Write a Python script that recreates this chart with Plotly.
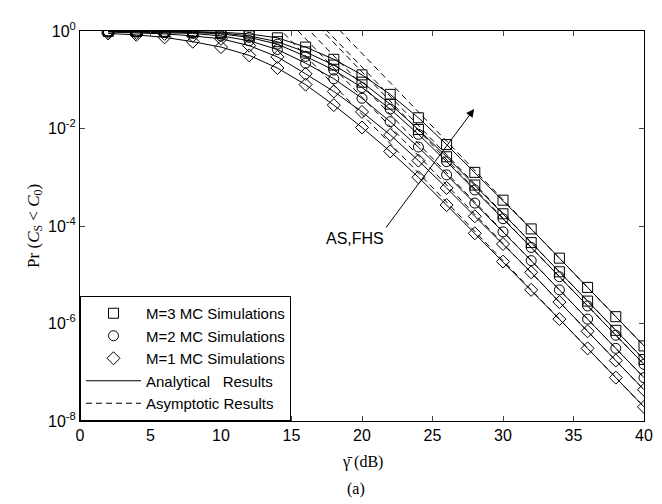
import plotly.graph_objects as go

snr_db = [2, 4, 6, 8, 10, 12, 14, 16, 18, 20, 22, 24, 26, 28, 30, 32, 34, 36, 38, 40]

# Simulated / analytical outage probability (two schemes per M)
m3_a = [0.995, 0.991, 0.984, 0.971, 0.944, 0.871, 0.724, 0.468, 0.263, 0.126, 0.0501, 0.0166,
        4.68e-3, 1.26e-3, 3.39e-4, 8.71e-5, 2.19e-5, 5.50e-6, 1.38e-6, 3.47e-7]
m3_b = [0.993, 0.986, 0.977, 0.955, 0.912, 0.794, 0.603, 0.372, 0.200, 0.0891, 0.0316, 9.55e-3,
        2.63e-3, 6.92e-4, 1.78e-4, 4.57e-5, 1.15e-5, 2.88e-6, 7.24e-7, 1.82e-7]
m2_a = [0.989, 0.977, 0.955, 0.933, 0.871, 0.741, 0.537, 0.302, 0.158, 0.0692, 0.0251, 7.59e-3,
        2.09e-3, 5.50e-4, 1.41e-4, 3.63e-5, 9.12e-6, 2.29e-6, 5.75e-7, 1.45e-7]
m2_b = [0.977, 0.955, 0.933, 0.891, 0.794, 0.631, 0.417, 0.219, 0.105, 0.0417, 0.0138, 4.17e-3,
        1.12e-3, 2.95e-4, 7.59e-5, 1.95e-5, 4.90e-6, 1.23e-6, 3.09e-7, 7.76e-8]
m1_a = [0.955, 0.912, 0.871, 0.794, 0.692, 0.501, 0.295, 0.132, 0.0575, 0.0219, 7.41e-3, 2.19e-3,
        6.03e-4, 1.58e-4, 4.27e-5, 1.12e-5, 2.75e-6, 6.92e-7, 1.74e-7, 4.37e-8]
m1_b = [0.891, 0.832, 0.741, 0.603, 0.468, 0.316, 0.174, 0.0794, 0.0302, 0.0105, 3.39e-3, 1.0e-3,
        2.69e-4, 7.08e-5, 1.86e-5, 4.90e-6, 1.23e-6, 3.09e-7, 7.76e-8, 1.95e-8]

# Asymptotic straight lines (values at the two end points)
asym_x = [12, 40]
asym_m3_a = [87.1, 3.47e-7]
asym_m3_b = [45.7, 1.82e-7]
asym_m2_a = [36.3, 1.45e-7]
asym_m2_b = [19.5, 7.76e-8]
asym_m1_a = [11.0, 4.37e-8]
asym_m1_b = [4.90, 1.95e-8]

x_ticks = [0, 5, 10, 15, 20, 25, 30, 35, 40]
y_ticks = [1, 1e-2, 1e-4, 1e-6, 1e-8]
y_tick_text = ["10<sup>0</sup>", "10<sup>-2</sup>", "10<sup>-4</sup>", "10<sup>-6</sup>", "10<sup>-8</sup>"]

legend_names = ["M=3 MC Simulations", "M=2 MC Simulations", "M=1 MC Simulations",
                "Analytical   Results", "Asymptotic Results"]

fig = go.Figure()

series = [(m3_a, "square-open"), (m3_b, "square-open"),
          (m2_a, "circle-open"), (m2_b, "circle-open"),
          (m1_a, "diamond-open"), (m1_b, "diamond-open")]
asyms = [asym_m3_a, asym_m3_b, asym_m2_a, asym_m2_b, asym_m1_a, asym_m1_b]

for yv in asyms:
    fig.add_trace(go.Scatter(x=asym_x, y=yv, mode="lines", showlegend=False,
                             line=dict(color="black", width=1, dash="6px,4px")))

for yv, sym in series:
    fig.add_trace(go.Scatter(x=snr_db, y=yv, mode="lines+markers", showlegend=False,
                             line=dict(color="black", width=1),
                             marker=dict(symbol=sym, size=10, color="black",
                                         line=dict(color="black", width=1))))

# legend entries
for name, sym in zip(legend_names[:3], ["square-open", "circle-open", "diamond-open"]):
    fig.add_trace(go.Scatter(x=[None], y=[None], mode="markers", name=name,
                             marker=dict(symbol=sym, size=10, color="black",
                                         line=dict(color="black", width=1))))
fig.add_trace(go.Scatter(x=[None], y=[None], mode="lines", name=legend_names[3],
                         line=dict(color="black", width=1)))
fig.add_trace(go.Scatter(x=[None], y=[None], mode="lines", name=legend_names[4],
                         line=dict(color="black", width=1, dash="6px,4px")))

serif = "Liberation Serif"
sans = "Liberation Sans, Arial, sans-serif"

fig.update_layout(
    width=662, height=504,
    margin=dict(l=72, r=26, t=17, b=91),
    paper_bgcolor="white", plot_bgcolor="white",
    font=dict(family=sans, size=16, color="black"),
    showlegend=True,
    legend=dict(x=0, y=0, xanchor="left", yanchor="bottom",
                bordercolor="black", borderwidth=1, bgcolor="white",
                font=dict(family=sans, size=15, color="black"),
                itemwidth=55, tracegroupgap=0),
    xaxis=dict(range=[0, 40], tickvals=x_ticks, ticks="inside", ticklen=5,
               showline=True, linecolor="black", linewidth=1, mirror="ticks",
               showgrid=False, zeroline=False, tickfont=dict(size=16)),
    yaxis=dict(type="log", range=[-8, 0], tickvals=y_ticks, ticktext=y_tick_text,
               ticks="inside", ticklen=5, showline=True, linecolor="black", linewidth=1,
               mirror="ticks", showgrid=False, zeroline=False, tickfont=dict(size=16)),
    annotations=[
        dict(xref="paper", yref="paper", x=-0.08, y=0.5, text="Pr (<i>C</i><sub>S</sub> < <i>C</i><sub>0</sub>)",
             textangle=-90, showarrow=False, font=dict(family=serif, size=17),
             xanchor="center", yanchor="middle"),
        dict(xref="paper", yref="paper", x=0.5, y=-0.106, text="γ\u0304 (dB)",
             showarrow=False, font=dict(family=serif, size=16), xanchor="center", yanchor="middle"),
        dict(xref="paper", yref="paper", x=0.49, y=-0.174, text="(a)",
             showarrow=False, font=dict(family=serif, size=16), xanchor="center", yanchor="middle"),
        dict(xref="x", yref="y", x=27.95, y=-1.6, ax=21.63, ay=-4.06, axref="x", ayref="y",
             text="", showarrow=True, arrowhead=2, arrowsize=1.6, arrowwidth=1, arrowcolor="black"),
        dict(xref="x", yref="y", x=19.5, y=-4.26, text="AS,FHS", showarrow=False,
             font=dict(family=sans, size=16), xanchor="center", yanchor="middle"),
    ],
)

fig.write_html("out.html")
